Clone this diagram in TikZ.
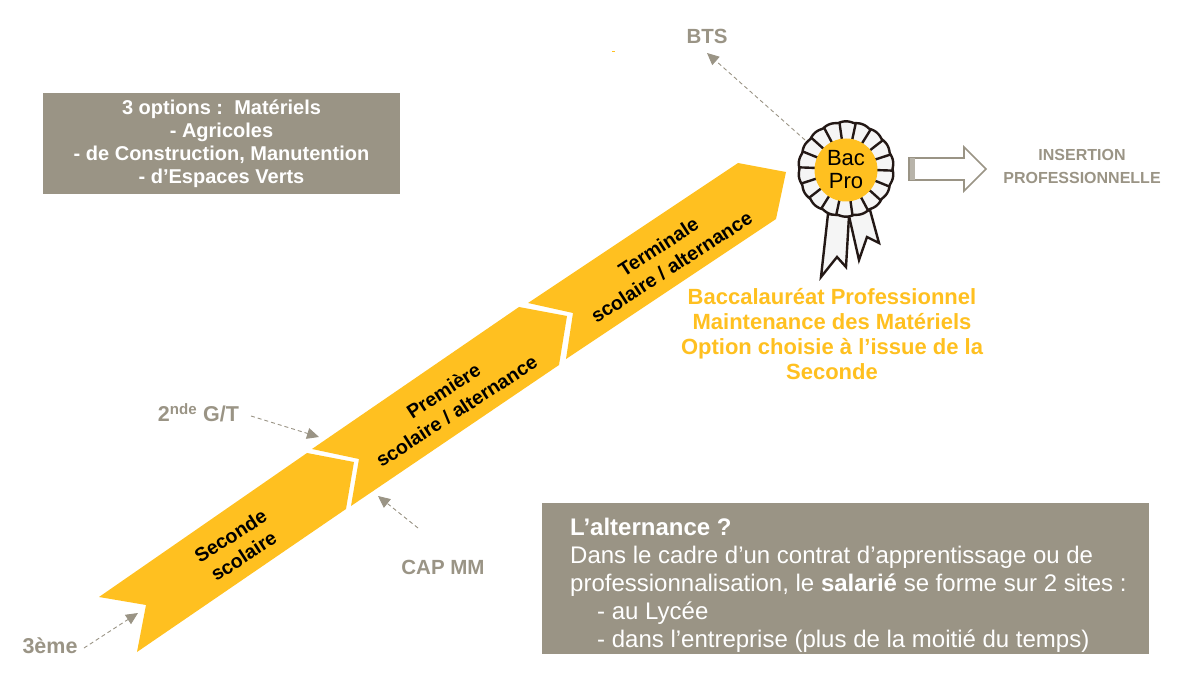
\documentclass[tikz,border=0pt]{standalone}
\usepackage{fontspec}
\setmainfont{Liberation Sans}
\usetikzlibrary{arrows.meta}
\definecolor{grisbox}{HTML}{9A9485}
\definecolor{jaune}{HTML}{FFC020}
\definecolor{encre}{HTML}{231815}
\tikzset{
  segment/.style={fill=jaune,draw=none},
  greybox/.style={fill=grisbox,draw=none},
  lien/.style={draw=grisbox,line width=0.9pt,dash pattern=on 4pt off 3pt,-{Triangle[length=12pt,width=11pt,fill=grisbox]}},
  stepname/.style={font=\fontsize{19.5}{24}\selectfont\bfseries,text=black,align=center,rotate=33,inner sep=0pt},
  greylabel/.style={text=grisbox,font=\fontsize{20.5}{24}\selectfont\bfseries,inner sep=0pt},
  ribbon/.style={fill=white!96!black,draw=encre,line width=2.4pt,line join=miter},
}
\begin{document}
\begin{tikzpicture}[x=1pt,y=-1pt]
\useasboundingbox (0,0) rectangle (1200,700);
% chevrons
\fill[segment] (99,597) -- (146,605) -- (137,652) -- (346,509) -- (354,462) -- (307,453) -- cycle;
\fill[segment] (312,449) -- (359,459) -- (351,506) -- (559,365) -- (567,316) -- (519,307) -- cycle;
\fill[segment] (528,303) -- (573,313) -- (566,359) -- (776,219) -- (786,172) -- (738,163) -- cycle;
\node[stepname] (sec) at (237,546) {Seconde\\scolaire};
\node[stepname] (pre) at (450,401) {Première\\scolaire / alternance};
\node[stepname] (ter) at (665,257) {Terminale\\scolaire / alternance};
% boxes
\node[greybox,minimum width=357pt,minimum height=101pt,inner sep=0pt,text=white,align=center,font=\fontsize{20}{23}\selectfont\bfseries] (opts) at (221.5,143.5) {3 options :\ \ Matériels\\- Agricoles\\- de Construction, Manutention\\- d’Espaces Verts};
\fill[greybox] (542,503) rectangle (1149,654);
\node[anchor=north west,text=white,align=left,inner sep=0pt,font=\fontsize{24}{28}\selectfont] (alt) at (570,518) {{\bfseries L’alternance ?}\\Dans le cadre d’un contrat d’apprentissage ou de\\professionnalisation, le {\bfseries salarié} se forme sur 2 sites :\\\hspace*{27pt}- au Lycée\\\hspace*{27pt}- dans l’entreprise (plus de la moitié du temps)};
% rosette ribbons
\draw[ribbon] (828,214) -- (821,277) -- (837,257) -- (846,267) -- (849,216) -- cycle;
\draw[ribbon] (849,216) -- (859,260) -- (867,237) -- (879,243) -- (870,210) -- cycle;
% rosette
\draw[fill=white!96!black,draw=encre,line width=2.4pt] plot[domain=0:360,samples=241] ({846+(46.5+1.2*abs(sin(9*\x)))*cos(\x)},{169+(46.5+1.2*abs(sin(9*\x)))*sin(\x)}) -- cycle;
\foreach \a in {0,20,...,340}{\draw[encre,line width=2.4pt] ({846+30*cos(\a+2)},{169+30*sin(\a+2)}) -- ({846+47*cos(\a+2)},{169+47*sin(\a+2)});}
\node[circle,fill=jaune,minimum size=63pt,inner sep=0pt,align=center,font=\fontsize{22}{23}\selectfont,text=black] (bac) at (846,170) {Bac\\Pro};
% hollow arrow
\draw[grisbox,line width=1.6pt,fill=white,line join=miter] (909,158) -- (964,158) -- (964,147) -- (986,169) -- (964,191) -- (964,180) -- (909,180) -- cycle;
\fill[grisbox!70!white] (910,158) rectangle (915,180);
% labels
\node[greylabel] (bts) at (707,36) {BTS};
\node[greylabel,font=\fontsize{21.5}{24}\selectfont\bfseries] (gt) at (198.5,413) {2\textsuperscript{nde} G/T};
\node[greylabel] (cap) at (443,567) {CAP MM};
\node[greylabel,font=\fontsize{21.5}{24}\selectfont\bfseries] (eme) at (50,646) {3ème};
\node[text=grisbox,align=center,inner sep=0pt,font=\fontsize{16}{23}\selectfont\bfseries] (ins) at (1082,166.5) {INSERTION\\PROFESSIONNELLE};
\node[text=jaune,align=center,inner sep=0pt,font=\fontsize{22}{25.3}\selectfont\bfseries] (bp) at (832,334) {Baccalauréat Professionnel\\Maintenance des Matériels\\Option choisie à l’issue de la\\Seconde};
% connector ends
\coordinate (ebts) at (707,53);
\coordinate (sbts) at (805,140);
\coordinate (sgt) at (251,416);
\coordinate (egt) at (319,437);
\coordinate (scap) at (418,528);
\coordinate (ecap) at (378,496);
\coordinate (seme) at (84,648);
\coordinate (eeme) at (138,613);
\draw[lien] (sbts) -- (ebts);
\draw[lien] (sgt) -- (egt);
\draw[lien] (scap) -- (ecap);
\draw[lien] (seme) -- (eeme);
\fill[jaune] (612,51.5) rectangle (615,52.5);
\end{tikzpicture}
\end{document}
